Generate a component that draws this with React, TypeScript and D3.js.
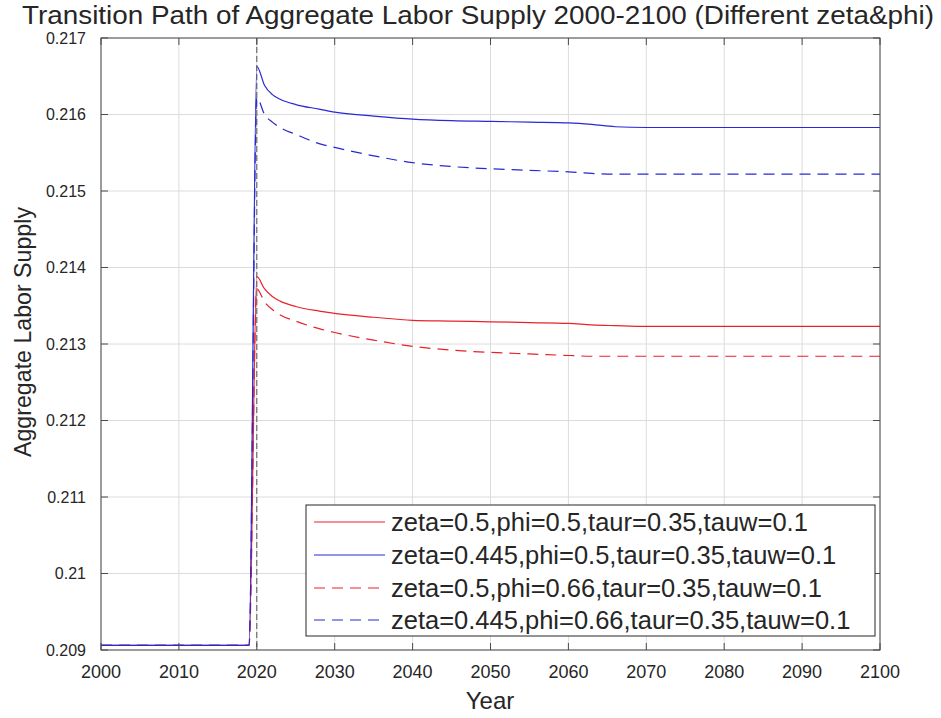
import { useRef, useEffect } from 'react';
import * as d3 from 'd3';

const W = 941;
const H = 718;
const PLOT = { left: 101, right: 880, top: 38, bottom: 650 };

// years
const years = [2000, 2019, 2020, 2021, 2022, 2023, 2025, 2028, 2030, 2035, 2040, 2045, 2050, 2055, 2060, 2063, 2066, 2070, 2080, 2090, 2100];

const redSolid = [0.20906, 0.20906, 0.21388, 0.21372, 0.21362, 0.21356, 0.21349, 0.21343, 0.2134, 0.21335, 0.21331, 0.2133, 0.21329, 0.21328, 0.21327, 0.21325, 0.21324, 0.21323, 0.21323, 0.21323, 0.21323];
const blueSolid = [0.20906, 0.20906, 0.21663, 0.21638, 0.21626, 0.2162, 0.21613, 0.21607, 0.21603, 0.21598, 0.21594, 0.21592, 0.21591, 0.2159, 0.21589, 0.21587, 0.21584, 0.21583, 0.21583, 0.21583, 0.21583];
const redDashed = [0.20906, 0.20906, 0.21372, 0.21355, 0.21345, 0.21338, 0.2133, 0.2132, 0.21315, 0.21305, 0.21297, 0.21292, 0.21289, 0.21287, 0.21285, 0.21284, 0.21284, 0.21284, 0.21284, 0.21284, 0.21284];
const blueDashed = [0.20906, 0.20906, 0.21622, 0.216, 0.2159, 0.21583, 0.21574, 0.21562, 0.21557, 0.21546, 0.21537, 0.21532, 0.21529, 0.21527, 0.21525, 0.21523, 0.21522, 0.21522, 0.21522, 0.21522, 0.21522];

const seriesLabels = [
  'zeta=0.5,phi=0.5,taur=0.35,tauw=0.1',
  'zeta=0.445,phi=0.5,taur=0.35,tauw=0.1',
  'zeta=0.5,phi=0.66,taur=0.35,tauw=0.1',
  'zeta=0.445,phi=0.66,taur=0.35,tauw=0.1',
];

const xTicks = d3.range(2000, 2101, 10);
const yTicks = [0.209, 0.21, 0.211, 0.212, 0.213, 0.214, 0.215, 0.216, 0.217];
const yTickLabels = ['0.209', '0.21', '0.211', '0.212', '0.213', '0.214', '0.215', '0.216', '0.217'];

const RED = '#e8222a';
const BLUE = '#2828d4';
const INK = '#262626';
const FONT = '"Liberation Sans", Arial, sans-serif';

export default function App() {
  const svgRef = useRef<SVGSVGElement | null>(null);

  useEffect(() => {
    if (!svgRef.current) return;
    const svg = d3.select(svgRef.current);
    svg.selectAll('*').remove();

    const x = d3.scaleLinear().domain([2000, 2100]).range([PLOT.left, PLOT.right]);
    const y = d3.scaleLinear().domain([0.209, 0.217]).range([PLOT.bottom, PLOT.top]);

    svg.append('rect').attr('width', W).attr('height', H).attr('fill', '#fff');

    // --- grid ---
    const grid = svg.append('g').attr('stroke', '#dcdcdc').attr('stroke-width', 1);
    xTicks.forEach((t) => {
      grid.append('line').attr('x1', x(t)).attr('x2', x(t)).attr('y1', PLOT.top).attr('y2', PLOT.bottom);
    });
    yTicks.forEach((t) => {
      grid.append('line').attr('x1', PLOT.left).attr('x2', PLOT.right).attr('y1', y(t)).attr('y2', y(t));
    });

    // vertical marker at 2020
    svg.append('line')
      .attr('x1', x(2020)).attr('x2', x(2020))
      .attr('y1', PLOT.top).attr('y2', PLOT.bottom)
      .attr('stroke', '#555').attr('stroke-width', 1)
      .attr('stroke-dasharray', '6,3');

    // --- series ---
    const series = [
      { values: redSolid, color: RED, dash: null },
      { values: blueSolid, color: BLUE, dash: null },
      { values: redDashed, color: RED, dash: '11,7' },
      { values: blueDashed, color: BLUE, dash: '11,7' },
    ];
    const line = d3.line<number>()
      .x((_, i) => x(years[i]))
      .y((d) => y(d))
      .curve(d3.curveMonotoneX);

    series.forEach((s) => {
      svg.append('path')
        .attr('d', line(s.values))
        .attr('fill', 'none')
        .attr('stroke', s.color)
        .attr('stroke-width', 1.2)
        .attr('stroke-dasharray', s.dash);
    });

    // --- box + inward ticks ---
    svg.append('rect')
      .attr('x', PLOT.left).attr('y', PLOT.top)
      .attr('width', PLOT.right - PLOT.left).attr('height', PLOT.bottom - PLOT.top)
      .attr('fill', 'none').attr('stroke', '#4a4a4a').attr('stroke-width', 1);

    const ticks = svg.append('g').attr('stroke', '#4a4a4a').attr('stroke-width', 1);
    const TL = 7;
    xTicks.forEach((t) => {
      ticks.append('line').attr('x1', x(t)).attr('x2', x(t)).attr('y1', PLOT.bottom).attr('y2', PLOT.bottom - TL);
      ticks.append('line').attr('x1', x(t)).attr('x2', x(t)).attr('y1', PLOT.top).attr('y2', PLOT.top + TL);
    });
    yTicks.forEach((t) => {
      ticks.append('line').attr('x1', PLOT.left).attr('x2', PLOT.left + TL).attr('y1', y(t)).attr('y2', y(t));
      ticks.append('line').attr('x1', PLOT.right).attr('x2', PLOT.right - TL).attr('y1', y(t)).attr('y2', y(t));
    });

    // tick labels
    xTicks.forEach((t) => {
      svg.append('text')
        .attr('x', x(t)).attr('y', 678)
        .attr('text-anchor', 'middle')
        .attr('font-family', FONT).attr('font-size', 18).attr('fill', INK)
        .text(String(t));
    });
    yTicks.forEach((t, i) => {
      svg.append('text')
        .attr('x', 86).attr('y', y(t))
        .attr('dy', '0.35em')
        .attr('text-anchor', 'end')
        .attr('font-family', FONT).attr('font-size', 16).attr('fill', INK)
        .text(yTickLabels[i]);
    });

    // titles
    svg.append('text')
      .attr('x', 478).attr('y', 24)
      .attr('text-anchor', 'middle')
      .attr('font-family', FONT).attr('font-size', 25).attr('fill', INK)
      .attr('textLength', 912).attr('lengthAdjust', 'spacingAndGlyphs')
      .text('Transition Path of Aggregate Labor Supply 2000-2100 (Different zeta&phi)');

    svg.append('text')
      .attr('x', 490).attr('y', 709)
      .attr('text-anchor', 'middle')
      .attr('font-family', FONT).attr('font-size', 24).attr('fill', INK)
      .text('Year');

    svg.append('text')
      .attr('transform', `translate(31,${332}) rotate(-90)`)
      .attr('text-anchor', 'middle')
      .attr('font-family', FONT).attr('font-size', 24).attr('fill', INK)
      .attr('textLength', 250).attr('lengthAdjust', 'spacingAndGlyphs')
      .text('Aggregate Labor Supply');

    // --- legend ---
    const lg = svg.append('g');
    lg.append('rect')
      .attr('x', 306).attr('y', 505).attr('width', 569).attr('height', 131)
      .attr('fill', '#fff').attr('stroke', INK).attr('stroke-width', 1);
    const rowY = [522, 555, 588, 620];
    series.forEach((s, i) => {
      lg.append('line')
        .attr('x1', 314).attr('x2', 385)
        .attr('y1', rowY[i]).attr('y2', rowY[i])
        .attr('stroke', s.color).attr('stroke-width', 1.2)
        .attr('stroke-dasharray', s.dash);
      lg.append('text')
        .attr('x', 391).attr('y', rowY[i])
        .attr('dy', '0.35em')
        .attr('font-family', FONT).attr('font-size', 25.5).attr('fill', INK)
        .text(seriesLabels[i]);
    });
  }, []);

  return (
    <svg
      ref={svgRef}
      width={W}
      height={H}
      style={{ position: 'absolute', left: 0, top: 0, display: 'block' }}
    />
  );
}
